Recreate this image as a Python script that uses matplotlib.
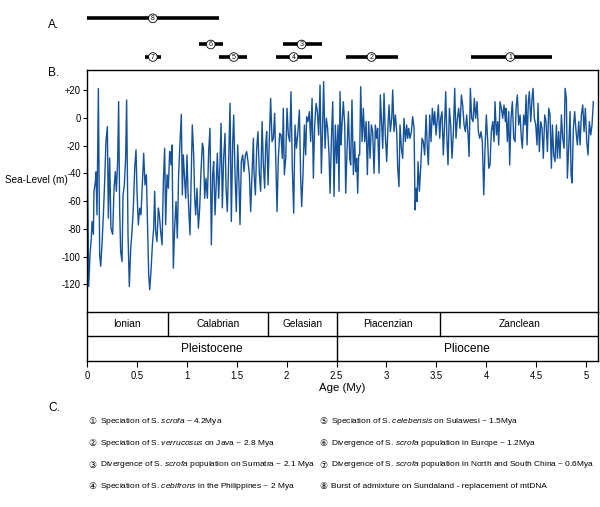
import matplotlib.pyplot as plt
from matplotlib import font_manager

# pick the narrowest font we have (the original uses a condensed Arial)
installed = {f.name for f in font_manager.fontManager.ttflist}
if 'Liberation Sans Narrow' in installed:
    main_font, fs = 'Liberation Sans Narrow', 1.0
else:
    main_font, fs = 'Liberation Sans', 0.86

plt.rcParams['font.family'] = [main_font, 'DejaVu Sans']
plt.rcParams['mathtext.fontset'] = 'custom'
plt.rcParams['mathtext.rm'] = main_font
plt.rcParams['mathtext.it'] = main_font + ':italic'

# === Data: sea level curve ===
age_my = [
    0.000, 0.017, 0.030, 0.043, 0.050, 0.064, 0.070, 0.084, 0.090, 0.100, 0.114, 0.127, 0.137, 0.150,
    0.164, 0.177, 0.190, 0.204, 0.214, 0.227, 0.240, 0.257, 0.271, 0.284, 0.294, 0.307, 0.317, 0.327,
    0.337, 0.351, 0.361, 0.374, 0.387, 0.397, 0.411, 0.424, 0.438, 0.451, 0.464, 0.478, 0.491, 0.501,
    0.514, 0.528, 0.541, 0.558, 0.568, 0.581, 0.595, 0.605, 0.618, 0.628, 0.641, 0.655, 0.668, 0.678,
    0.688, 0.701, 0.715, 0.725, 0.738, 0.752, 0.765, 0.778, 0.788, 0.802, 0.815, 0.828,
    0.832, 0.842, 0.852, 0.865, 0.878, 0.892, 0.905, 0.918, 0.932, 0.945, 0.955, 0.965, 0.979, 0.989,
    1.002, 1.012, 1.022, 1.032, 1.045, 1.055, 1.069, 1.079, 1.089, 1.102, 1.116, 1.129, 1.142, 1.156,
    1.166, 1.179, 1.192, 1.206, 1.219, 1.232, 1.246, 1.259, 1.269, 1.283, 1.296, 1.306, 1.319, 1.333,
    1.343, 1.356, 1.369, 1.383, 1.393, 1.406, 1.420, 1.433, 1.446, 1.460, 1.470, 1.483, 1.496, 1.510,
    1.523, 1.533, 1.546, 1.560, 1.573, 1.587, 1.600, 1.613, 1.627, 1.640, 1.653, 1.667,
    1.673, 1.687, 1.700, 1.713, 1.727, 1.740, 1.754, 1.767, 1.780, 1.790, 1.800, 1.814, 1.827, 1.840,
    1.854, 1.867, 1.880, 1.894, 1.904, 1.917, 1.931, 1.944, 1.957, 1.967, 1.977, 1.991, 2.004, 2.017,
    2.031, 2.044, 2.057, 2.071, 2.084, 2.098, 2.111, 2.128, 2.141, 2.151, 2.164, 2.178, 2.191, 2.201,
    2.214, 2.228, 2.241, 2.255, 2.268, 2.281, 2.295, 2.308, 2.321, 2.335, 2.348, 2.361, 2.371, 2.385,
    2.398, 2.411, 2.425, 2.435, 2.448, 2.462, 2.475, 2.488, 2.502,
    2.515, 2.525, 2.535, 2.545, 2.555, 2.568, 2.582, 2.592, 2.605, 2.619, 2.632, 2.642, 2.655, 2.669,
    2.682, 2.692, 2.702, 2.712, 2.722, 2.732, 2.742, 2.756, 2.769, 2.782, 2.796, 2.809, 2.822, 2.836,
    2.849, 2.862, 2.876, 2.889, 2.902, 2.912, 2.926, 2.939, 2.953, 2.963, 2.976, 2.989, 3.003, 3.016,
    3.026, 3.039, 3.053, 3.063, 3.076, 3.090, 3.103, 3.113, 3.126, 3.136, 3.150, 3.163, 3.176, 3.190,
    3.203, 3.213, 3.223, 3.236, 3.250, 3.263, 3.277, 3.287, 3.297, 3.307, 3.317, 3.330, 3.343,
    3.357, 3.370, 3.383, 3.397, 3.410, 3.420, 3.434, 3.447, 3.460, 3.474, 3.484, 3.497, 3.510, 3.520,
    3.534, 3.544, 3.557, 3.570, 3.584, 3.594, 3.607, 3.617, 3.631, 3.644, 3.657, 3.671, 3.684, 3.697,
    3.711, 3.724, 3.737, 3.751, 3.764, 3.778, 3.791, 3.804, 3.818, 3.828, 3.841, 3.854, 3.868, 3.881,
    3.894, 3.908, 3.921, 3.935, 3.948, 3.961, 3.975, 3.988, 4.001, 4.015, 4.025, 4.038, 4.051, 4.065,
    4.078, 4.088, 4.102, 4.115, 4.125, 4.138, 4.152, 4.165, 4.178, 4.192,
    4.198, 4.212, 4.225, 4.235, 4.248, 4.262, 4.275, 4.289, 4.299, 4.312, 4.325, 4.339, 4.352, 4.362,
    4.375, 4.389, 4.399, 4.409, 4.422, 4.432, 4.446, 4.459, 4.469, 4.482, 4.496, 4.509, 4.519, 4.532,
    4.546, 4.559, 4.572, 4.586, 4.599, 4.613, 4.626, 4.639, 4.653, 4.663, 4.676, 4.689, 4.703, 4.713,
    4.726, 4.739, 4.753, 4.766, 4.780, 4.790, 4.803, 4.813, 4.826, 4.840, 4.850, 4.860, 4.873, 4.886,
    4.900, 4.913, 4.927, 4.940, 4.953, 4.967, 4.980, 4.993, 5.007, 5.020, 5.033, 5.047, 5.060, 5.073,
]

sea_level_m = [
    -2, -121.6, -98.8, -86.8, -74.8, -84, -53, -46, -39, -70, 21, -98.8, -107, -91.6,
    -70, -46, -17, -6.4, -72.4, -29, -79.6, -84, -50.8, -38.8, -53, -31.6, 11.6, -65,
    -96.4, -103.6, -55.6, -48.4, -29, 12.8, -84.4, -121.6, -94, -82, -65, -36.4, -23.2, -53,
    -77.2, -65.2, -70, -41.2, -25.6, -48.4, -41, -72.4, -113, -124, -110.8, -91.6, -79.6, -53,
    -82, -89.2, -65, -70, -82, -91.6, -46, -22, -77, -41, -50.8, -24.4,
    -24.4, -34, -19.6, -108.4, -79.6, -60.4, -86.8, -41, -17.2, 2.5, -55.6, -26.8, -46, -58,
    -26.8, -53, -70, -84.4, -41, -5.2, -26.8, -58, -70, -50.8, -79.6, -65.2, -38.8, -18.4,
    -22, -58, -43.6, -58, -24.4, -7.6, -91.6, -41, -31.6, -70, -46, -25.6, -58, -31.6,
    -4, -65, -29.2, -11.2, -50.8, -67.6, -29.2, 10.4, -74.8, -17.2, 2, -41, -67.6, -19.6,
    -48.4, -77, -31.6, -26.8, -38.8, -26.8, -24.4, -31.6, -41, -67.6, -41, -14.8,
    -38.8, -55.6, -22, -10, -41, -53, -2.8, -34, -50.8, -19.6, -10, -48.4, -14.8, 14,
    -17.2, -14.8, 3.2, -38.8, -67.6, -29.2, -11.2, -12.4, -29.2, 6.8, -41, -29.2, 6.8, -12.4,
    -17.2, 18.8, -36.4, -68.8, -5.2, -22, -12.4, 5.6, -43.6, -64, -41, -5.2, -26.8, 0.8,
    -2.8, 4.4, -17.2, 14, -43.6, -5.2, 10.4, 4.4, -12.4, 23.6, -40, -5.2, 26, -22,
    -0.4, -7.6, -26.8, -54.4, -17.2, 11.6, -56.8, -5.2, -32.8,
    -5.2, -53, 18.8, -19.6, -5.2, 11.6, -5.2, -54.4, -24.4, 4.4, -29.2, -34, 12.8, -41,
    -17.2, -38.8, -29.2, -54.4, -26.8, -26.8, 22.4, -17.2, 6.8, -17.2, -2.8, -41, -2.8, -29.2,
    -5.2, -10, -40, -5.2, -14.8, -7.6, -40, 16.4, -5.2, -22, 17.6, -12.4, -31.6, -5.2,
    9.2, -10, -0.4, 20, -10, 2, -10, -36.4, -49.6, -5.2, -22, -29.2, -0.4, -17.2,
    -5.2, -14.8, -7.6, -14.8, -10, 0.8, -7.6, -66.4, -50.8, -60.4, -31.6, -53, -36.4,
    -14.8, -17.2, -26.8, 2, -22, -34, 2, -17.2, 6.8, -5.2, 4.4, -12.4, -0.4, 9.2,
    -14.8, -0.4, 4.4, -26.8, -2.8, 18.8, -17.2, -34, 6.8, -5.2, -29.2, -10, 21.2, -14.8,
    -0.4, 6.8, -7.6, 16.4, 9.2, -5.2, -10, 2, -12.4, -28, 21.2, -0.4, -2.8, 14,
    -0.4, 11.6, -10, -14.8, -10, -17.2, -55.6, -22, 2, -17.2, -36.4, -34, -10, -2.8,
    -17.2, 11.6, -12.4, -2.8, -19.6, 11.6, 6.8, -0.4, 9.2, -2.8,
    6.8, -17.2, 4.4, -34, -0.4, 11.6, -14.8, -17.2, 6.8, 16.4, -5.2, 2, -14.8, -22,
    2, -5.2, 16.4, -19.6, 11.6, 18.8, -2.8, 14, 21.2, -0.4, -5.2, -19.6, 10.4, -24.4,
    -2.8, -7.6, -29.2, 2, -2.8, -24.4, 6.8, 2, -36.4, -5.2, -26.8, -31.6, -5.2, -29.2,
    -10, -29.2, 2, -14.8, -22, 21.2, 14, -43.6, -22, 4.4, -41, -47, -7.6, 4.4,
    -10, -19.6, -2.8, -19.6, 2, 9.2, -10, 6.8, -17.2, -26.8, -2.8, -12.4, -5.2, 11.6,
]

# geological time scale
stage_names = ['Ionian', 'Calabrian', 'Gelasian', 'Piacenzian', 'Zanclean']
stage_edges = [0, 0.81, 1.81, 2.5, 3.54, 5.12]
epoch_names = ['Pleistocene', 'Pliocene']
epoch_edges = [0, 2.5, 5.12]

# events (A.)
event_num = ['1', '2', '3', '4', '5', '6', '7', '8']
event_start = [3.85, 2.59, 1.96, 1.89, 1.32, 1.12, 0.58, 0.0]
event_end = [4.66, 3.12, 2.35, 2.25, 1.60, 1.36, 0.74, 1.32]
event_mid = [4.24, 2.85, 2.15, 2.07, 1.47, 1.24, 0.66, 0.66]
event_row = [0, 0, 1, 0, 0, 1, 0, 2]

# legend (C.)
circled = ['①', '②', '③', '④', '⑤', '⑥', '⑦', '⑧']
legend_text = [
    r'Speciation of S. $\mathit{scrofa}$ ~ 4.2Mya',
    r'Speciation of S. $\mathit{verrucosus}$ on Java ~ 2.8 Mya',
    r'Divergence of S. $\mathit{scrofa}$ population on Sumatra ~ 2.1 Mya',
    r'Speciation of S. $\mathit{cebifrons}$ in the Philippines ~ 2 Mya',
    r'Speciation of S. $\mathit{celebensis}$ on Sulawesi ~ 1.5Mya',
    r'Divergence of S. $\mathit{scrofa}$ population in Europe ~ 1.2Mya',
    r'Divergence of S. $\mathit{scrofa}$ population in North and South China ~ 0.6Mya',
    'Burst of admixture on Sundaland - replacement of mtDNA',
]

xmax = 5.12
fig = plt.figure(figsize=(6, 5.07), dpi=100)

# === B. sea level ===
ax = fig.add_axes([0.145, 0.3846, 0.8517, 0.4773])
ax.plot(age_my, sea_level_m, color='#15529a', lw=1.0)
ax.set_xlim(0, xmax)
ax.set_ylim(-140, 34.4)
ax.set_yticks([20, 0, -20, -40, -60, -80, -100, -120])
ax.set_yticklabels(['+20', '0', '-20', '-40', '-60', '-80', '-100', '-120'], fontsize=8 * fs)
ax.tick_params(axis='y', direction='out', length=3, width=0.8, pad=1.5)
ax.tick_params(axis='x', bottom=False, labelbottom=False)
ax.spines['bottom'].set_visible(False)
for s in ['left', 'top', 'right']:
    ax.spines[s].set_linewidth(1.0)

# === time scale table ===
axt = fig.add_axes([0.145, 0.288, 0.8517, 0.0966])
axt.set_xlim(0, xmax)
axt.set_ylim(0, 2)
axt.set_yticks([])
axt.axhline(1, color='black', lw=1.0)
for i, name in enumerate(stage_names):
    if i > 0:
        axt.plot([stage_edges[i], stage_edges[i]], [1, 2], color='black', lw=1.0)
    axt.text((stage_edges[i] + stage_edges[i + 1]) / 2, 1.5, name, ha='center', va='center',
             fontsize=8.5 * fs)
for i, name in enumerate(epoch_names):
    if i > 0:
        axt.plot([epoch_edges[i], epoch_edges[i]], [0, 1], color='black', lw=1.0)
    axt.text((epoch_edges[i] + epoch_edges[i + 1]) / 2, 0.5, name, ha='center', va='center',
             fontsize=10 * fs)
axt.set_xticks([0, 0.5, 1, 1.5, 2, 2.5, 3, 3.5, 4, 4.5, 5])
axt.set_xticklabels(['0', '0.5', '1', '1.5', '2', '2.5', '3', '3.5', '4', '4.5', '5'], fontsize=8 * fs)
axt.tick_params(axis='x', direction='out', length=4, width=0.8, pad=3)
axt.set_xlabel('Age (My)', fontsize=9.5 * fs, labelpad=2)
for s in axt.spines.values():
    s.set_linewidth(1.0)

# === A. events ===
row_y = {0: 0.155, 1: 0.371, 2: 0.822}
axa = fig.add_axes([0.145, 0.8698, 0.8517, 0.1144])
axa.set_xlim(0, xmax)
axa.set_ylim(0, 1)
axa.axis('off')
for i in range(len(event_num)):
    y = row_y[event_row[i]]
    axa.plot([event_start[i], event_end[i]], [y, y], color='black', lw=2.6, solid_capstyle='butt')
    axa.text(event_mid[i], y, event_num[i], ha='center', va='center', fontsize=5,
             bbox=dict(boxstyle='circle,pad=0.12', fc='white', ec='black', lw=0.6))

# panel letters and axis label
fig.text(48 / 600, 1 - 25 / 507, 'A.', fontsize=10 * fs, ha='left', va='center')
fig.text(48 / 600, 1 - 73 / 507, 'B.', fontsize=10 * fs, ha='left', va='center')
fig.text(48 / 600, 1 - 408 / 507, 'C.', fontsize=10 * fs, ha='left', va='center')
fig.text(36 / 600, 1 - 180 / 507, 'Sea-Level (m)', fontsize=8.4 * fs, ha='center', va='center')

# === C. legend ===
row_px = [421.7, 443.3, 465, 486.7]
for i in range(8):
    col = i // 4
    y = 1 - row_px[i % 4] / 507
    cx = 88 if col == 0 else 319
    fig.text(cx / 600, y, circled[i], fontsize=6.5, ha='left', va='center',
             family=['DejaVu Sans', 'Noto Sans CJK SC'])
    fig.text((cx + 12) / 600, y, legend_text[i], fontsize=7.0 * fs, ha='left', va='center')

plt.savefig('out.png', dpi=100)
